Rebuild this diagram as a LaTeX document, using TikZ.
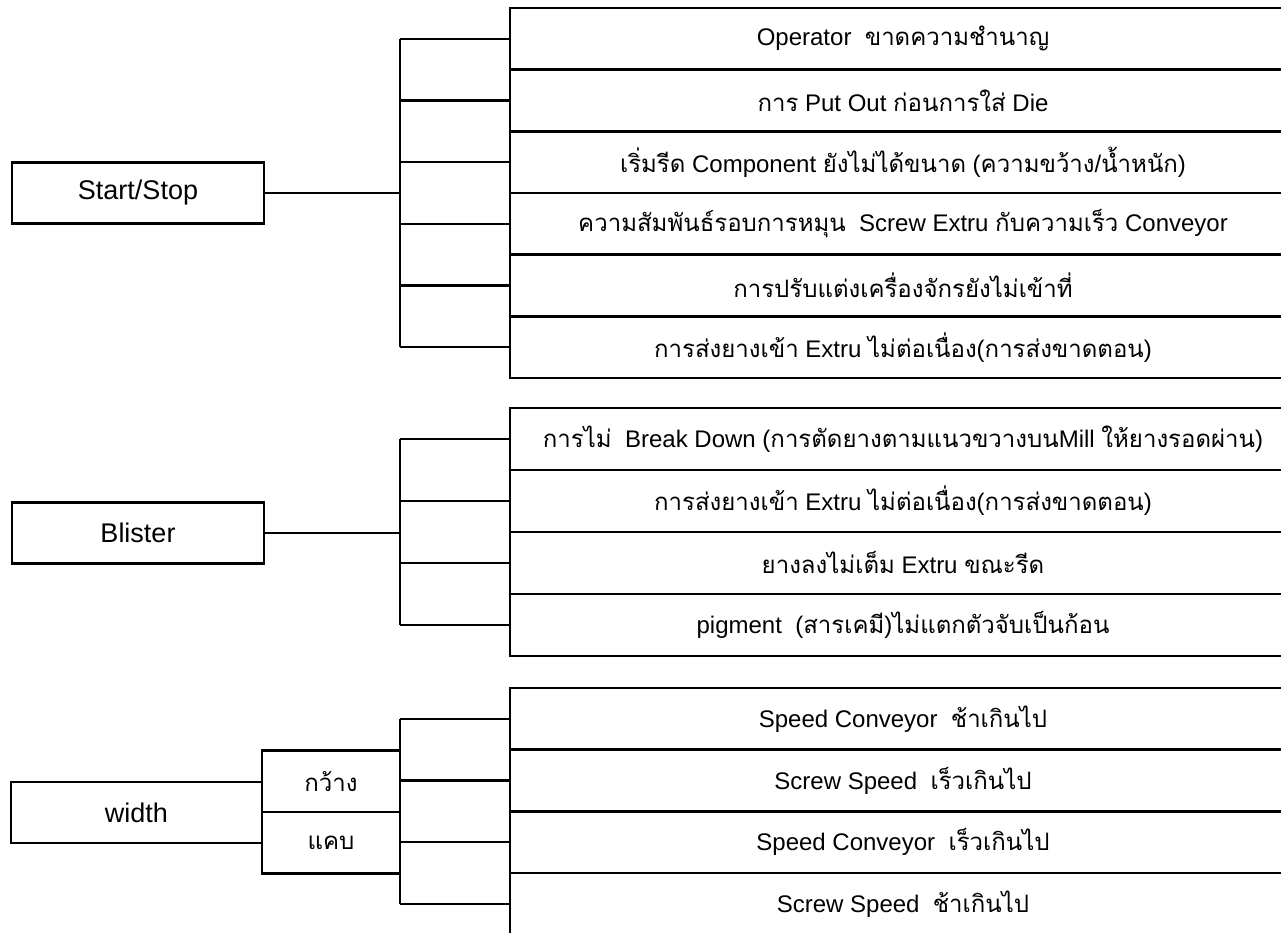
\documentclass[tikz,border=0pt]{standalone}
\usepackage{fontspec}
\setmainfont{Liberation Sans}
\newfontfamily\thaifont[Script=Thai]{Loma}
\newcommand\thai[1]{{\thaifont #1}}
\begin{document}
\begin{tikzpicture}[x=1pt,y=-1pt,
  lbox/.style={draw,line width=2.2pt,minimum width=252pt,minimum height=61pt,inner sep=0pt,font=\fontsize{27}{30}\selectfont},
  mbox/.style={draw,line width=2.2pt,minimum width=138pt,minimum height=61.5pt,inner sep=0pt,font=\fontsize{24}{28}\selectfont},
  rbox/.style={draw,line width=2.6pt,minimum width=786pt,minimum height=61.7pt,inner sep=0pt,font=\fontsize{24}{28}\selectfont},
  conn/.style={line width=2.2pt}]
\fill[white] (0,0) rectangle (1281,933);
\useasboundingbox (0,0) rectangle (1281,933);
\clip (0,0) rectangle (1281,933);
% ---------- Start/Stop group ----------
\node[lbox] (ss) at (138,193) {Start/Stop};
\node[rbox] (a1) at (903,38.8) {Operator~~\thai{ขาดความชำนาญ}};
\node[rbox] (a2) at (903,100.5) {\thai{การ} Put Out \thai{ก่อนการใส่} Die};
\node[rbox] (a3) at (903,162.2) {\thai{เริ่มรีด} Component \thai{ยังไม่ได้ขนาด} (\thai{ความขว้าง}/\thai{น้ำหนัก})};
\node[rbox] (a4) at (903,223.8) {\thai{ความสัมพันธ์รอบการหมุน}~~Screw Extru \thai{กับความเร็ว} Conveyor};
\node[rbox] (a5) at (903,285.5) {\thai{การปรับแต่งเครื่องจักรยังไม่เข้าที่}};
\node[rbox] (a6) at (903,347.2) {\thai{การส่งยางเข้า} Extru \thai{ไม่ต่อเนื่อง}(\thai{การส่งขาดตอน})};
\coordinate (ja) at (400,193);
\draw[conn] (ss.east) -- (ja);
\draw[conn] (a1.west -| ja) -- (a6.west -| ja);
\foreach \n in {a1,a2,a3,a4,a5,a6} \draw[conn] (\n.west -| ja) -- (\n.west);
% ---------- Blister group ----------
\node[lbox] (bl) at (138,533) {Blister};
\node[rbox] (b1) at (903,439) {\thai{การไม่}~~Break Down (\thai{การตัดยางตามแนวขวางบน}Mill \thai{ให้ยางรอดผ่าน})};
\node[rbox] (b2) at (903,501) {\thai{การส่งยางเข้า} Extru \thai{ไม่ต่อเนื่อง}(\thai{การส่งขาดตอน})};
\node[rbox] (b3) at (903,563) {\thai{ยางลงไม่เต็ม} Extru \thai{ขณะรีด}};
\node[rbox] (b4) at (903,625) {pigment~~(\thai{สารเคมี})\thai{ไม่แตกตัวจับเป็นก้อน}};
\coordinate (jb) at (400,533);
\draw[conn] (bl.east) -- (jb);
\draw[conn] (b1.west -| jb) -- (b4.west -| jb);
\foreach \n in {b1,b2,b3,b4} \draw[conn] (\n.west -| jb) -- (\n.west);
% ---------- width group ----------
\node[lbox,minimum width=251pt] (wd) at (136.5,812.5) {width};
\node[mbox] (gw) at (331,781.2) {\thai{กว้าง}};
\node[mbox] (kb) at (331,842.8) {\thai{แคบ}};
\node[rbox] (c1) at (903,718.9) {Speed Conveyor~~\thai{ช้าเกินไป}};
\node[rbox] (c2) at (903,780.5) {Screw Speed~~\thai{เร็วเกินไป}};
\node[rbox] (c3) at (903,842.2) {Speed Conveyor~~\thai{เร็วเกินไป}};
\node[rbox] (c4) at (903,903.9) {Screw Speed~~\thai{ช้าเกินไป}};
\coordinate (jc) at (400,812);
\draw[conn] (c1.west -| jc) -- (c4.west -| jc);
\foreach \n in {c1,c2,c3,c4} \draw[conn] (\n.west -| jc) -- (\n.west);
\end{tikzpicture}
\end{document}
